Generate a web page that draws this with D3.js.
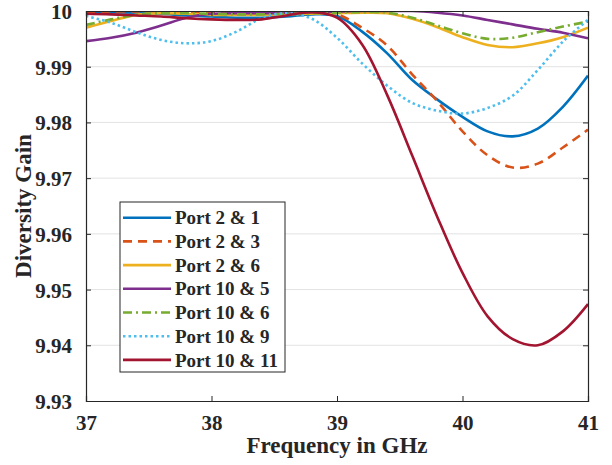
<!DOCTYPE html>
<html>
<head>
<meta charset="utf-8">
<style>
  body { margin: 0; background: #fff; }
  text { font-family: "Liberation Serif", "Times New Roman", serif; font-weight: bold; fill: #262626; }
</style>
<title>Diversity Gain</title>
</head>
<body>
<script src="https://cdn.jsdelivr.net/npm/d3@7"></script>
<script>

// data ///////////////////////////////////////////////////////////////////

var freq = [37, 37.2, 37.4, 37.6, 37.8, 38, 38.2, 38.4, 38.6, 38.8, 39,
            39.2, 39.4, 39.6, 39.8, 40, 40.2, 40.4, 40.6, 40.8, 41];

var port21   = [9.9998, 9.9998, 9.9997, 9.9995, 9.9992, 9.9990, 9.9988, 9.9988, 9.9990, 9.9994, 9.9991,
                9.9963, 9.9924, 9.9876, 9.9841, 9.9810, 9.9784, 9.9775, 9.9789, 9.9828, 9.9884];
var port23   = [9.9998, 9.9999, 9.9999, 9.9999, 9.9998, 9.9997, 9.9996, 9.9996, 9.9997, 9.9998, 9.9994,
                9.9970, 9.9938, 9.9886, 9.9838, 9.9784, 9.9741, 9.9719, 9.9726, 9.9755, 9.9787];
var port26   = [9.9970, 9.9982, 9.9993, 9.9996, 9.9995, 9.9993, 9.9993, 9.9993, 9.9994, 9.9995, 9.9996,
                9.9997, 9.9996, 9.9986, 9.9971, 9.9953, 9.9939, 9.9935, 9.9942, 9.9953, 9.9970];
var port105  = [9.9946, 9.9952, 9.9961, 9.9974, 9.9988, 9.9995, 9.9996, 9.9996, 9.9997, 9.9998, 9.9999,
                10.000, 10.000, 10.000, 9.9997, 9.9992, 9.9984, 9.9976, 9.9968, 9.9961, 9.9951];
var port106  = [9.9975, 9.9985, 9.9993, 9.9996, 9.9996, 9.9995, 9.9994, 9.9994, 9.9995, 9.9996, 9.9997,
                9.9998, 9.9997, 9.9988, 9.9974, 9.9960, 9.9950, 9.9952, 9.9962, 9.9972, 9.9981];
var port109  = [9.9991, 9.9979, 9.9962, 9.9948, 9.9942, 9.9946, 9.9963, 9.9987, 9.9996, 9.9986, 9.9952,
                9.9906, 9.9866, 9.9835, 9.9821, 9.9816, 9.9826, 9.9848, 9.9894, 9.9945, 9.9984];
var port1011 = [9.9995, 9.9994, 9.9992, 9.9990, 9.9987, 9.9985, 9.9984, 9.9985, 9.9992, 9.9998, 9.9988,
                9.9940, 9.9849, 9.9740, 9.9630, 9.9530, 9.9452, 9.9411, 9.9400, 9.9425, 9.9474];

var names  = ['Port 2 & 1', 'Port 2 & 3', 'Port 2 & 6', 'Port 10 & 5', 'Port 10 & 6', 'Port 10 & 9', 'Port 10 & 11'];
var values = [port21, port23, port26, port105, port106, port109, port1011];

var xTicks = [37, 38, 39, 40, 41];
var yTicks = [9.93, 9.94, 9.95, 9.96, 9.97, 9.98, 9.99, 10];

// styles
var colors = ['#0072BD', '#D95319', '#EDB120', '#7E2F8E', '#77AC30', '#4DBEEE', '#A2142F'];
var dashes = [null, '9,6', null, null, '9,4,2,4', '2.5,3', null];

// layout /////////////////////////////////////////////////////////////////

var W = 612, H = 465;
var margin = {top: 11, right: 24, bottom: 64, left: 86};
var width  = W - margin.left - margin.right,
    height = H - margin.top - margin.bottom;

var svg = d3.select('body').append('svg')
    .attr('width', W)
    .attr('height', H);

var g = svg.append('g')
    .attr('transform', `translate(${margin.left},${margin.top})`);

var x = d3.scaleLinear().domain([37, 41]).range([0, width]);
var y = d3.scaleLinear().domain([9.93, 10]).range([height, 0]);

// grid
g.append('g')
  .selectAll('line')
  .data(yTicks.slice(1, -1))
  .join('line')
    .attr('x1', 0).attr('x2', width)
    .attr('y1', d => y(d)).attr('y2', d => y(d))
    .attr('stroke', '#e3e3e3')
    .attr('stroke-width', 1);

// curves
g.append('clipPath').attr('id', 'clip')
  .append('rect').attr('width', width).attr('height', height);

var line = d3.line()
    .x((d, i) => x(freq[i]))
    .y(d => y(d))
    .curve(d3.curveCatmullRom.alpha(0.5));

g.append('g').attr('clip-path', 'url(#clip)')
  .selectAll('path')
  .data(values)
  .join('path')
    .attr('d', d => line(d))
    .attr('fill', 'none')
    .attr('stroke', (d, i) => colors[i])
    .attr('stroke-width', 2.6)
    .attr('stroke-dasharray', (d, i) => dashes[i]);

// axes (MATLAB box, ticks inward)
var fmtY = d => d === 10 ? '10' : d3.format('.2f')(d);

var xAxis = g.append('g')
    .attr('transform', `translate(0,${height})`)
    .call(d3.axisBottom(x).tickValues(xTicks).tickSize(-5).tickPadding(14).tickFormat(d3.format('d')));
var xTop = g.append('g')
    .call(d3.axisTop(x).tickValues(xTicks).tickSize(-5).tickFormat(''));
var yAxis = g.append('g')
    .call(d3.axisLeft(y).tickValues(yTicks).tickSize(-5).tickPadding(14).tickFormat(fmtY));
var yRight = g.append('g')
    .attr('transform', `translate(${width},0)`)
    .call(d3.axisRight(y).tickValues(yTicks).tickSize(-5).tickFormat(''));

[xAxis, xTop, yAxis, yRight].forEach(a => {
  a.select('.domain').attr('stroke', '#262626').attr('stroke-width', 1.2);
  a.selectAll('.tick line').attr('stroke', '#262626');
});
xAxis.selectAll('text').attr('font-size', 21).attr('fill', '#262626').attr('font-family', null);
yAxis.selectAll('text').attr('font-size', 21).attr('fill', '#262626').attr('font-family', null)
    .attr('dy', '0.36em');

// labels
svg.append('text')
    .attr('x', margin.left + width / 2)
    .attr('y', 453)
    .attr('text-anchor', 'middle')
    .attr('font-size', 23)
    .text('Frequency in GHz');

svg.append('text')
    .attr('transform', `translate(31,${margin.top + height / 2}) rotate(-90)`)
    .attr('text-anchor', 'middle')
    .attr('font-size', 23)
    .text('Diversity Gain');

// legend
var legend = svg.append('g').attr('transform', 'translate(120,202)');
legend.append('rect')
    .attr('width', 165).attr('height', 170)
    .attr('fill', '#fff')
    .attr('stroke', '#262626')
    .attr('stroke-width', 1);

var rows = legend.selectAll('g.row')
  .data(names)
  .join('g')
    .attr('class', 'row')
    .attr('transform', (d, i) => `translate(0,${15.7 + i * 23.7})`);

rows.append('line')
    .attr('x1', 3).attr('x2', 51)
    .attr('stroke', (d, i) => colors[i])
    .attr('stroke-width', 2.6)
    .attr('stroke-dasharray', (d, i) => dashes[i]);

rows.append('text')
    .attr('x', 55)
    .attr('dy', '0.35em')
    .attr('font-size', 19)
    .attr('fill', '#000')
    .text(d => d);

</script>
</body>
</html>
